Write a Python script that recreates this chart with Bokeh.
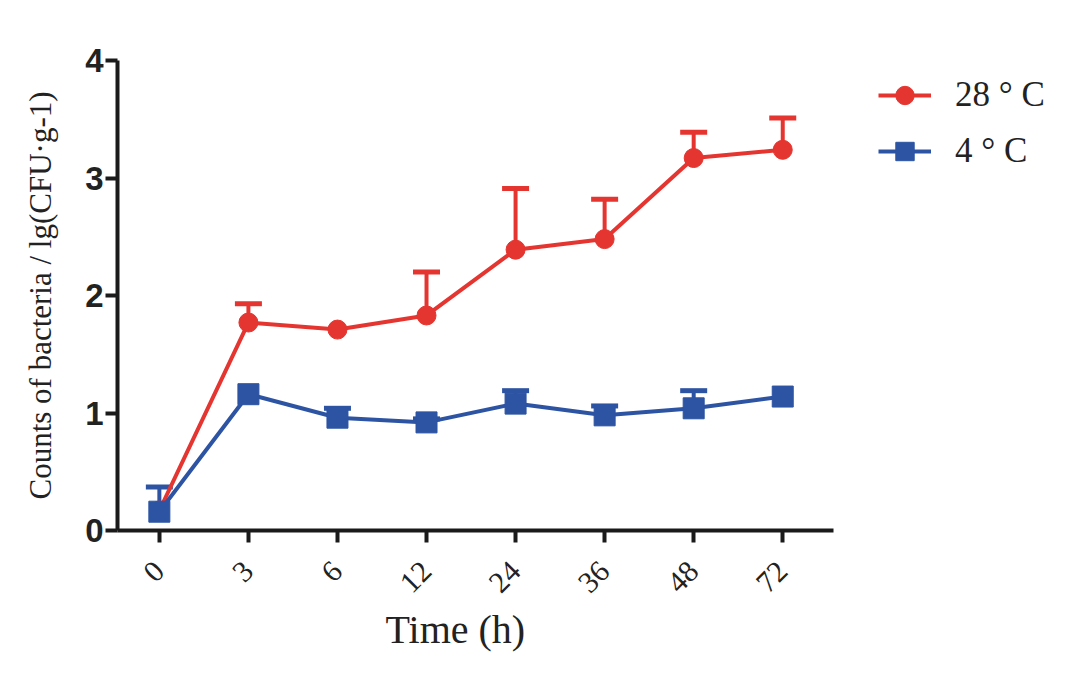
import math
from bokeh.plotting import figure
from bokeh.models import (ColumnDataSource, Whisker, TeeHead, Legend, LegendItem,
                          FixedTicker, Range1d, Title)
from bokeh.embed import file_html
from bokeh.resources import INLINE

# ---- data ----
time_labels = ["0", "3", "6", "12", "24", "36", "48", "72"]
warm_mean = [0.17, 1.77, 1.71, 1.83, 2.39, 2.48, 3.17, 3.24]
warm_err = [0.0, 0.16, 0.0, 0.37, 0.52, 0.34, 0.22, 0.27]
cold_mean = [0.16, 1.16, 0.96, 0.92, 1.08, 0.98, 1.04, 1.14]
cold_err = [0.21, 0.0, 0.08, 0.03, 0.11, 0.08, 0.15, 0.0]
y_ticks = [0, 1, 2, 3, 4]

RED = "#E53530"
BLUE = "#2D54A3"
SERIF = "Liberation Serif"
SANS = "Liberation Sans"

xs = list(range(len(time_labels)))

p = figure(frame_width=716, frame_height=470, output_backend="svg",
           toolbar_location=None, min_border_left=117, min_border_top=60,
           min_border_bottom=130, min_border_right=20,
           x_range=Range1d(-0.47, 7.57), y_range=Range1d(0, 4))
p.background_fill_color = "white"
p.border_fill_color = "white"
p.outline_line_color = None
p.grid.visible = False

def add_series(mean, err, color, marker, size):
    src = ColumnDataSource(dict(x=xs, y=mean))
    wx = [x for x, e in zip(xs, err) if e > 0]
    wl = [m for m, e in zip(mean, err) if e > 0]
    wu = [m + e for m, e in zip(mean, err) if e > 0]
    wsrc = ColumnDataSource(dict(base=wx, lower=wl, upper=wu))
    w = Whisker(source=wsrc, base="base", lower="lower", upper="upper",
                line_color=color, line_width=4,
                upper_head=TeeHead(size=27, line_color=color, line_width=5),
                lower_head=None)
    p.add_layout(w)
    ln = p.line("x", "y", source=src, line_color=color, line_width=4)
    mk = p.scatter("x", "y", source=src, marker=marker, size=size,
                   fill_color=color, line_color=color)
    return ln, mk

r_line, r_mk = add_series(warm_mean, warm_err, RED, "circle", 19)
b_line, b_mk = add_series(cold_mean, cold_err, BLUE, "square", 21)

# axes
for ax in (p.xaxis[0], p.yaxis[0]):
    ax.axis_line_width = 4
    ax.axis_line_color = "#1a1a1a"
    ax.major_tick_line_width = 4
    ax.major_tick_line_color = "#1a1a1a"
    ax.major_tick_out = 12
    ax.major_tick_in = 0
    ax.minor_tick_line_color = None

p.xaxis.ticker = FixedTicker(ticks=xs)
p.xaxis.major_label_overrides = {i: t for i, t in enumerate(time_labels)}
p.xaxis.major_label_orientation = math.pi / 4
p.xaxis.major_label_text_font = SERIF
p.xaxis.major_label_text_font_size = "30px"
p.xaxis.major_label_text_color = "#222222"
p.xaxis.major_label_standoff = 24

# x-axis title (slightly left of the frame centre, as in the original)
xtitle = Title(text="Time (h)", align="left", offset=268, text_font=SERIF,
               text_font_size="40px", text_font_style="normal",
               text_color="#222222", standoff=0)
p.add_layout(xtitle, "below")

p.yaxis.ticker = FixedTicker(ticks=y_ticks)
p.yaxis.major_label_text_font = SANS
p.yaxis.major_label_text_font_style = "bold"
p.yaxis.major_label_text_font_size = "33px"
p.yaxis.major_label_text_color = "#222222"
p.yaxis.major_label_standoff = 2
p.yaxis.axis_label = "Counts of bacteria / lg(CFU·g-1)"
p.yaxis.axis_label_text_font = SERIF
p.yaxis.axis_label_text_font_size = "31px"
p.yaxis.axis_label_text_font_style = "normal"
p.yaxis.axis_label_text_color = "#222222"
p.yaxis.axis_label_standoff = 24

legend = Legend(items=[LegendItem(label="28 ° C", renderers=[r_line, r_mk]),
                       LegendItem(label="4 ° C", renderers=[b_line, b_mk])],
                location=(45, 356))
legend.label_text_font = SERIF
legend.label_text_font_size = "35px"
legend.label_text_color = "#222222"
legend.glyph_width = 53
legend.glyph_height = 46
legend.label_height = 46
legend.spacing = 10
legend.label_standoff = 24
legend.border_line_color = None
legend.background_fill_alpha = 0
legend.margin = 40
legend.padding = 0
p.add_layout(legend, "right")

open("out.html", "w").write(file_html(p, INLINE))
